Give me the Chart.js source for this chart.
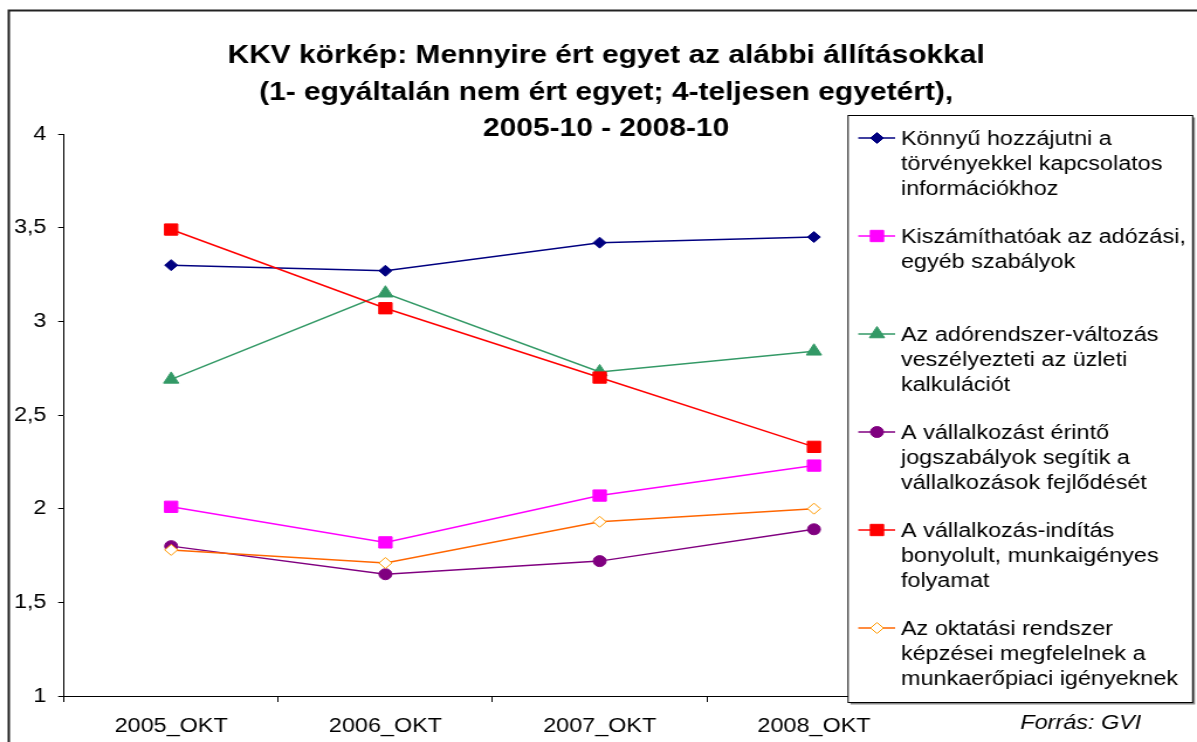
<!DOCTYPE html>
<html>
<head>
<meta charset="utf-8">
<script src="https://cdn.jsdelivr.net/npm/chart.js@4.4.1/dist/chart.umd.min.js"></script>
<style>
  html, body { margin: 0; padding: 0; background: #fff; overflow: hidden; }
  /* the original picture is stretched sideways, so draw narrow and stretch */
  #wrap { width: 1023px; height: 742px; transform: scaleX(1.17009); transform-origin: 0 0; }
</style>
</head>
<body>
<div id="wrap"><canvas id="chart"></canvas></div>
<script>
const categories = ['2005_OKT', '2006_OKT', '2007_OKT', '2008_OKT'];

const konnyuHozzajutni = [3.30, 3.27, 3.42, 3.45];
const kiszamithatoak = [2.01, 1.82, 2.07, 2.23];
const adorendszer = [2.69, 3.15, 2.73, 2.84];
const jogszabalyok = [1.80, 1.65, 1.72, 1.89];
const inditas = [3.49, 3.07, 2.70, 2.33];
const oktatas = [1.78, 1.71, 1.93, 2.00];

const yMin = 1, yMax = 4, yStep = 0.5;

const titleLines = [
    'KKV körkép: Mennyire ért egyet az alábbi állításokkal',
    '(1- egyáltalán nem ért egyet; 4-teljesen egyetért),',
    '2005-10 - 2008-10'
];

const legendLines = [
    ['Könnyű hozzájutni a', 'törvényekkel kapcsolatos', 'információkhoz'],
    ['Kiszámíthatóak az adózási,', 'egyéb szabályok'],
    ['Az adórendszer-változás', 'veszélyezteti az üzleti', 'kalkulációt'],
    ['A vállalkozást érintő', 'jogszabályok segítik a', 'vállalkozások fejlődését'],
    ['A vállalkozás-indítás', 'bonyolult, munkaigényes', 'folyamat'],
    ['Az oktatási rendszer', 'képzései megfelelnek a', 'munkaerőpiaci igényeknek']
];

const sourceText = 'Forrás: GVI';

const FONT = 'Arial, "Liberation Sans", sans-serif';

function series(i, data, line, marker, style, radius, fill) {
    return {
        label: legendLines[i].join(' '),
        data: data,
        borderColor: line,
        borderWidth: 1.5,
        pointStyle: style,
        pointRadius: radius,
        pointBackgroundColor: fill || marker,
        pointBorderColor: marker,
        pointBorderWidth: 1,
        tension: 0,
        order: legendLines.length - i
    };
}

const datasets = [
    series(0, konnyuHozzajutni, '#000080', '#000080', 'rectRot', 5.5),
    series(1, kiszamithatoak, '#FF00FF', '#FF00FF', 'rect', 8),
    series(2, adorendszer, '#339966', '#339966', 'triangle', 7.5),
    series(3, jogszabalyok, '#800080', '#800080', 'circle', 5.5),
    series(4, inditas, '#FF0000', '#FF0000', 'rect', 8),
    series(5, oktatas, '#FF6600', '#FF9900', 'rectRot', 5.5, '#FFFFFF')
];

// frame, title, legend box and source note
const decorations = {
    id: 'decorations',
    afterDraw(chart) {
        const ctx = chart.ctx;
        ctx.save();

        // outer frame (top and left edges are visible)
        ctx.strokeStyle = '#222';
        ctx.lineWidth = 2;
        ctx.beginPath();
        ctx.moveTo(7.5, 742);
        ctx.lineTo(7.5, 10.5);
        ctx.lineTo(1023, 10.5);
        ctx.stroke();

        // title
        ctx.fillStyle = '#000';
        ctx.font = 'bold 25.6px ' + FONT;
        ctx.textAlign = 'center';
        ctx.textBaseline = 'alphabetic';
        titleLines.forEach((t, i) => ctx.fillText(t, 518, 63 + i * 36.5));

        // legend box
        const bx = 724.8, by = 115.5, bw = 294.5, bh = 587;
        ctx.fillStyle = '#888';
        ctx.fillRect(bx + 2, by + 2, bw, bh);
        ctx.fillStyle = '#fff';
        ctx.fillRect(bx, by, bw, bh);
        ctx.strokeStyle = '#000';
        ctx.lineWidth = 1;
        ctx.strokeRect(bx, by, bw, bh);

        ctx.font = '20px ' + FONT;
        ctx.textAlign = 'left';
        chart.data.datasets.forEach((ds, i) => {
            const cy = 138 + i * 98;
            ctx.strokeStyle = ds.borderColor;
            ctx.lineWidth = 1.5;
            ctx.beginPath();
            ctx.moveTo(733.5, cy);
            ctx.lineTo(765, cy);
            ctx.stroke();
            ctx.fillStyle = ds.pointBackgroundColor;
            ctx.strokeStyle = ds.pointBorderColor;
            ctx.lineWidth = ds.pointBorderWidth;
            Chart.helpers.drawPoint(ctx, {
                pointStyle: ds.pointStyle,
                radius: ds.pointRadius,
                rotation: 0,
                borderWidth: ds.pointBorderWidth
            }, 749.5, cy);
            ctx.fillStyle = '#000';
            legendLines[i].forEach((t, j) => ctx.fillText(t, 770, cy + 7 + j * 25));
        });

        // source
        ctx.font = 'italic 20px ' + FONT;
        ctx.fillText(sourceText, 872, 729);

        ctx.restore();
    }
};

new Chart(document.getElementById('chart'), {
    type: 'line',
    data: {
        labels: categories,
        datasets: datasets
    },
    options: {
        responsive: true,
        maintainAspectRatio: false,
        animation: false,
        layout: {
            padding: { top: 134, right: 235.8, bottom: 0, left: 0 }
        },
        plugins: {
            legend: { display: false },
            title: { display: false },
            tooltip: { enabled: false }
        },
        scales: {
            x: {
                offset: true,
                grid: {
                    offset: true,
                    drawOnChartArea: false,
                    drawTicks: true,
                    tickLength: 6,
                    color: '#000'
                },
                border: { display: true, color: '#000', width: 1 },
                ticks: {
                    color: '#000',
                    font: { family: FONT, size: 20 },
                    padding: 12,
                    maxRotation: 0,
                    autoSkip: false
                },
                afterFit(scale) { scale.height = 46; }
            },
            y: {
                min: yMin,
                max: yMax,
                grid: {
                    drawOnChartArea: false,
                    drawTicks: true,
                    tickLength: 5,
                    color: '#000'
                },
                border: { display: true, color: '#000', width: 1 },
                ticks: {
                    stepSize: yStep,
                    color: '#000',
                    font: { family: FONT, size: 20 },
                    padding: 10,
                    callback: v => String(v).replace('.', ',')
                },
                afterFit(scale) { scale.width = 54.7; }
            }
        }
    },
    plugins: [decorations]
});
</script>
</body>
</html>
